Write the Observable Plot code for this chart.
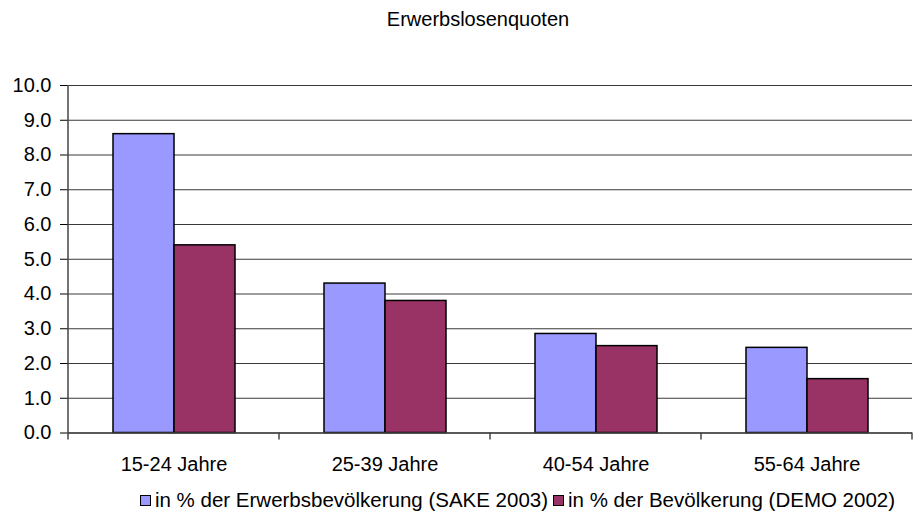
<!DOCTYPE html>
<html>
<head>
<meta charset="utf-8">
<script src="https://cdn.jsdelivr.net/npm/d3@7"></script>
<script src="https://cdn.jsdelivr.net/npm/@observablehq/plot@0.6"></script>
<style>
  html, body { margin: 0; padding: 0; background: #fff; }
  #wrap { width: 920px; height: 521px; overflow: hidden; font-family: "Liberation Sans", Arial, sans-serif; color: #000; }
  #title { height: 40px; box-sizing: border-box; padding-top: 9px; padding-left: 36px; text-align: center; font-size: 20px; line-height: 20px; }
  #legend { height: 35px; box-sizing: border-box; padding-top: 4px; padding-left: 120px; text-align: center; font-size: 20.5px; line-height: 20.5px; white-space: nowrap; }
  .sw { display: inline-block; width: 9px; height: 9px; border: 1px solid #000; vertical-align: 1px; margin-right: 4px; }
  .item { margin-right: 5px; }
  svg { display: block; }
</style>
</head>
<body>
<div id="wrap">
  <div id="title"></div>
  <div id="chart"></div>
  <div id="legend"></div>
</div>
<script>
const titleText = "Erwerbslosenquoten";
const categories = ["15-24 Jahre", "25-39 Jahre", "40-54 Jahre", "55-64 Jahre"];
const seriesNames = ["in % der Erwerbsbevölkerung (SAKE 2003)", "in % der Bevölkerung (DEMO 2002)"];
const seriesColors = ["#9999FF", "#993366"];
const sakeValues = [8.6, 4.3, 2.85, 2.45];
const demoValues = [5.4, 3.8, 2.5, 1.55];
const yTicks = [0, 1, 2, 3, 4, 5, 6, 7, 8, 9, 10];

const data = categories.flatMap((c, i) => [
  {cat: c, series: seriesNames[0], value: sakeValues[i]},
  {cat: c, series: seriesNames[1], value: demoValues[i]}
]);

document.getElementById("title").textContent = titleText;

const chart = Plot.plot({
  width: 920,
  height: 446,
  marginTop: 45,
  marginBottom: 53.5,
  marginLeft: 66,
  marginRight: 7,
  style: {fontFamily: "'Liberation Sans', Arial, sans-serif", fontSize: "20px", color: "#000", background: "#fff"},
  fx: {domain: categories, padding: 0, label: null, axis: "bottom", tickSize: 0, tickPadding: 24},
  x: {domain: seriesNames, axis: null, paddingInner: 0, paddingOuter: 0.726},
  y: {domain: [0, 10], ticks: yTicks, tickFormat: d => d.toFixed(1), tickSize: 8, tickPadding: 9, label: null},
  color: {domain: seriesNames, range: seriesColors},
  marks: [
    Plot.ruleY(yTicks, {stroke: "#3a3a3a", strokeWidth: 1.2}),
    Plot.barY(data, {fx: "cat", x: "series", y: "value", fill: "series", stroke: "#000", strokeWidth: 1.5}),
    Plot.ruleY([0], {stroke: "#444", strokeWidth: 1.5})
  ]
});

// axis line and category boundary ticks, positioned from Plot's own scales
const fxS = chart.scale("fx");
const yS = chart.scale("y");
const yBottom = yS.apply(0), yTop = yS.apply(10);
const g = d3.select(chart).append("g").attr("stroke", "#444").attr("stroke-width", 1.5);
const xLeft = fxS.apply(categories[0]);
g.append("line").attr("x1", xLeft).attr("x2", xLeft).attr("y1", yTop).attr("y2", yBottom + 7);
categories.forEach(c => {
  const xr = fxS.apply(c) + fxS.bandwidth;
  g.append("line").attr("x1", xr).attr("x2", xr).attr("y1", yBottom).attr("y2", yBottom + 7);
});

document.getElementById("chart").appendChild(chart);

const legend = document.getElementById("legend");
seriesNames.forEach((name, i) => {
  const item = document.createElement("span");
  item.className = "item";
  const sw = document.createElement("span");
  sw.className = "sw";
  sw.style.background = seriesColors[i];
  item.appendChild(sw);
  item.appendChild(document.createTextNode(name));
  legend.appendChild(item);
});
</script>
</body>
</html>
